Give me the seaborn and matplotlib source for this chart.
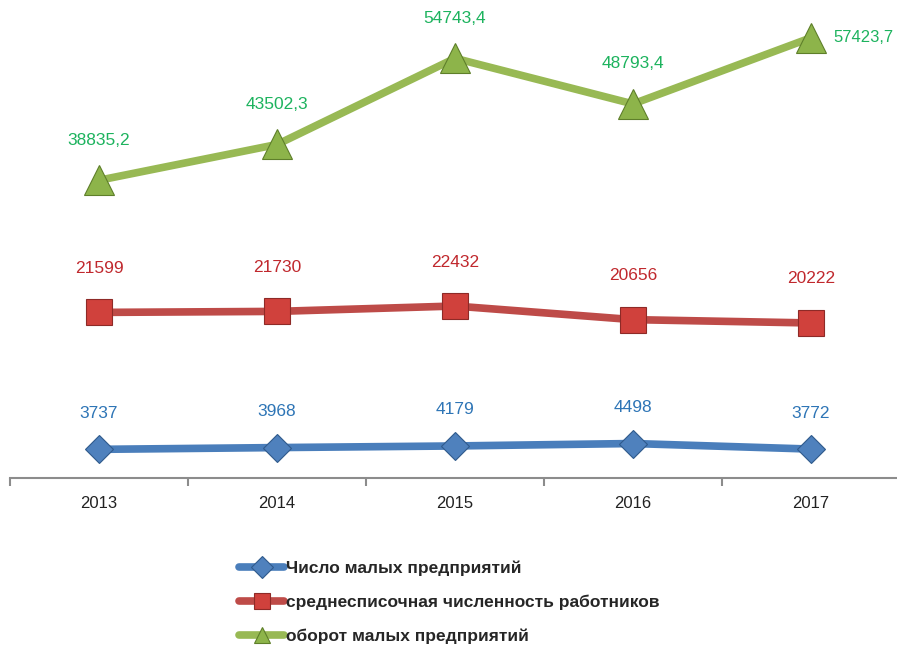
import pandas as pd
import seaborn as sns
import matplotlib.pyplot as plt

# ---- data ----
years = ["2013", "2014", "2015", "2016", "2017"]
num_enterprises = [3737, 3968, 4179, 4498, 3772]
avg_workers = [21599, 21730, 22432, 20656, 20222]
turnover = [38835.2, 43502.3, 54743.4, 48793.4, 57423.7]

names = ["Число малых предприятий",
         "среднесписочная численность работников",
         "оборот малых предприятий"]

sns.set_style("white")
plt.rcParams['font.family'] = ['Liberation Sans', 'DejaVu Sans']

fig = plt.figure(figsize=(8.97, 6.46), dpi=100)
ax = fig.add_axes([10 / 897, 168 / 646, 890 / 897, 460 / 646])

x = list(range(len(years)))
series = [
    # values, line colour, marker, size, face, edge, label colour, label offset
    (num_enterprises, "#4A7EBB", "D", 14, "#4F81BD", "#2F5A8C", "#2E75B6", 36),
    (avg_workers, "#BE4B48", "s", 19, "#D0413C", "#8E2A27", "#C0282D", 44),
    (turnover, "#98B954", "^", 21, "#8DB44A", "#5E7F2A", "#1DB35E", 40),
]

for (vals, lc, mk, ms, fc, ec, tc, off), name in zip(series, names):
    df = pd.DataFrame({"x": x, "y": vals})
    sns.lineplot(data=df, x="x", y="y", ax=ax, color=lc, lw=5.5,
                 marker=mk, markersize=ms, markerfacecolor=fc,
                 markeredgecolor=ec, markeredgewidth=0.8, label=name)
    for i, v in enumerate(vals):
        txt = f"{v:.1f}".replace(".", ",") if isinstance(v, float) else str(v)
        if vals is turnover and i == len(vals) - 1:
            ax.annotate(txt, (i, v), xytext=(22, 0), textcoords="offset pixels",
                        ha="left", va="center", color=tc, fontsize=12)
        else:
            ax.annotate(txt, (i, v), xytext=(0, off), textcoords="offset pixels",
                        ha="center", va="center", color=tc, fontsize=12.5)

ax.set_xlim(-0.5, 4.5)
ax.set_ylim(0, 60000)
ax.set_xticks(x)
ax.set_xticklabels(years, fontsize=12)
ax.set_xticks([i - 0.5 for i in range(len(years) + 1)], minor=True)
ax.tick_params(axis="x", which="major", length=0, pad=13, colors="#222222")
ax.tick_params(axis="x", which="minor", length=6, width=1.5, color="#8C8C8C",
               direction="out", bottom=True)
ax.set_yticks([])
ax.set_xlabel("")
ax.set_ylabel("")
for s in ["top", "right", "left"]:
    ax.spines[s].set_visible(False)
ax.spines["bottom"].set_color("#8C8C8C")
ax.spines["bottom"].set_linewidth(1.5)

leg = ax.legend(loc="upper left", bbox_to_anchor=(222 / 890, -0.165),
                frameon=False, handlelength=2.6, handletextpad=0.1,
                labelspacing=1.05, borderaxespad=0,
                prop={"family": ["Liberation Sans", "DejaVu Sans"],
                      "weight": "bold", "size": 12.5})
for h in leg.legend_handles:
    h.set_markersize(11)
    h.set_linewidth(5.5)
    h.set_solid_capstyle("round")

fig.savefig("out.png", dpi=100)
